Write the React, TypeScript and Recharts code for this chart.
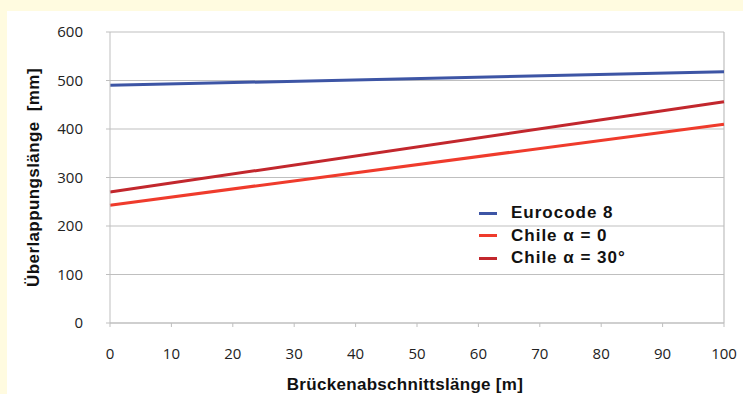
import { LineChart, Line, XAxis, YAxis, CartesianGrid, Legend, ReferenceLine } from "recharts";

// Brückenabschnittslänge [m]
const SPAN = [0, 100];
const EUROCODE_8 = [490, 518];
const CHILE_A0 = [243, 410];
const CHILE_A30 = [270, 456];

const X_TICKS = [0, 10, 20, 30, 40, 50, 60, 70, 80, 90, 100];
const Y_TICKS = [0, 100, 200, 300, 400, 500, 600];

const SERIES = [
  { key: "eurocode", name: "Eurocode 8", color: "#3d55a5" },
  { key: "chile0", name: "Chile α = 0", color: "#ef3b2c" },
  { key: "chile30", name: "Chile α = 30°", color: "#c2272d" },
];

const data = SPAN.map((x, i) => ({
  x,
  eurocode: EUROCODE_8[i],
  chile0: CHILE_A0[i],
  chile30: CHILE_A30[i],
}));

const GRID = "#bfbfbf";
const TICK_FONT = { fontFamily: "'Open Sans', sans-serif", fontSize: 15, fill: "#222" };
const LABEL_FONT = "'Liberation Sans', Arial, sans-serif";

function YLabel({ viewBox }: any) {
  const x = viewBox.x + 3;
  const y = viewBox.y + viewBox.height / 2;
  return (
    <text
      x={x}
      y={y}
      transform={`rotate(-90 ${x} ${y})`}
      textAnchor="middle"
      dominantBaseline="central"
      style={{ whiteSpace: "pre" }}
      fontFamily={LABEL_FONT}
      fontWeight="bold"
      fontSize={17}
      letterSpacing={0.4}
      fill="#111"
    >
      Überlappungslänge  [mm]
    </text>
  );
}

function XLabel({ viewBox }: any) {
  const x = viewBox.x + viewBox.width / 2 - 12;
  const y = viewBox.y + 61;
  return (
    <text
      x={x}
      y={y}
      textAnchor="middle"
      dominantBaseline="central"
      fontFamily={LABEL_FONT}
      fontWeight="bold"
      fontSize={17}
      letterSpacing={0.3}
      fill="#111"
    >
      Brückenabschnittslänge [m]
    </text>
  );
}

// legend keeps the series order of the original chart
function LegendBox() {
  return (
    <div style={{ fontFamily: LABEL_FONT, fontWeight: "bold", fontSize: 17, letterSpacing: 1, color: "#111" }}>
      {SERIES.map((s) => (
        <div key={s.key} style={{ display: "flex", alignItems: "center", height: 22.5 }}>
          <span style={{ display: "inline-block", width: 18, height: 3, background: s.color, marginRight: 14 }} />
          <span>{s.name}</span>
        </div>
      ))}
    </div>
  );
}

export default function App() {
  return (
    <div style={{ position: "fixed", left: 0, top: 0, width: 743, height: 394, background: "#fffbe0" }}>
      <div style={{ position: "absolute", left: 7, top: 11, right: 0, bottom: 0, background: "#fff" }} />
      <div style={{ position: "absolute", left: 0, top: 0 }}>
        <LineChart width={743} height={394} data={data} margin={{ top: 32, right: 19, bottom: 0, left: 30 }}>
          <CartesianGrid vertical={false} stroke={GRID} strokeWidth={1.2} />
          <ReferenceLine x={100} stroke={GRID} strokeWidth={1.2} />
          <XAxis
            dataKey="x"
            type="number"
            domain={[0, 100]}
            ticks={X_TICKS}
            height={71}
            stroke={GRID}
            tickSize={4}
            tickMargin={21}
            tick={TICK_FONT}
            interval={0}
            label={<XLabel />}
          />
          <YAxis
            type="number"
            domain={[0, 600]}
            ticks={Y_TICKS}
            width={80}
            stroke={GRID}
            tickSize={4}
            tickMargin={23}
            tick={TICK_FONT}
            interval={0}
            label={<YLabel />}
          />
          <Legend
            layout="vertical"
            align="center"
            verticalAlign="middle"
            wrapperStyle={{ left: 479, top: 202, width: 220 }}
            content={<LegendBox />}
          />
          {SERIES.map((s) => (
            <Line
              key={s.key}
              type="linear"
              dataKey={s.key}
              name={s.name}
              stroke={s.color}
              strokeWidth={3}
              dot={false}
              isAnimationActive={false}
            />
          ))}
        </LineChart>
      </div>
    </div>
  );
}
